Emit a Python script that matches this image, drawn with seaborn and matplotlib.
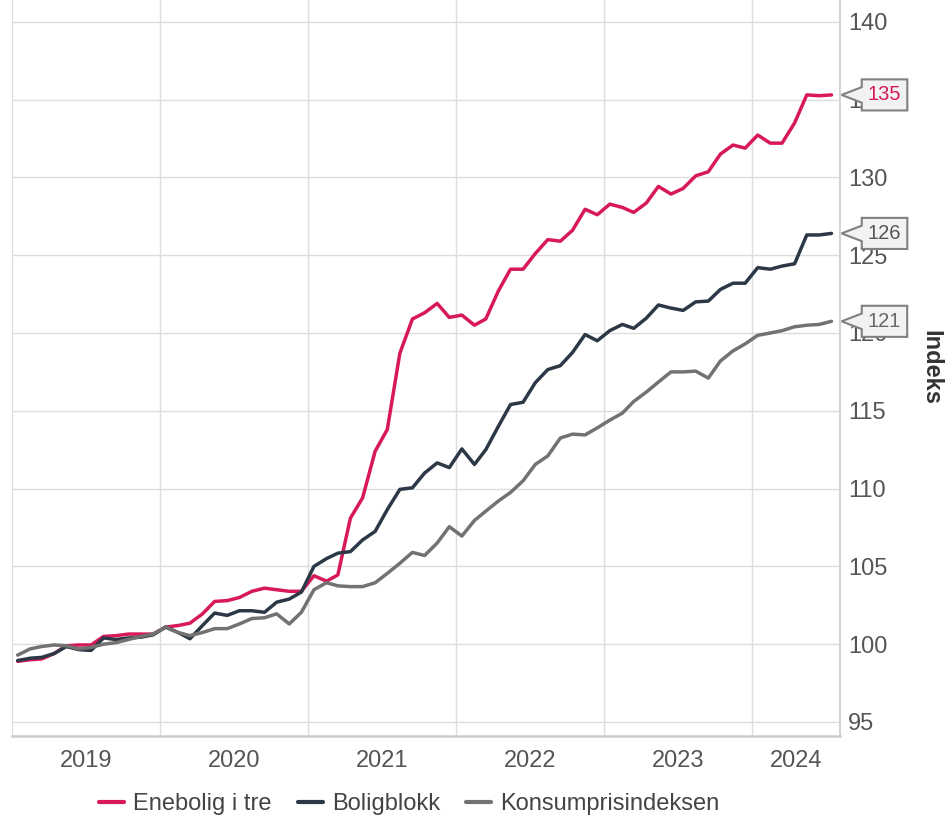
import numpy as np
import pandas as pd
import matplotlib
matplotlib.use("Agg")
import matplotlib.pyplot as plt
from matplotlib.path import Path
import seaborn as sns

# Månedlige indekser, jan 2019 - jul 2024 (plassert midt i måneden)
maaneder = pd.date_range("2019-01-01", periods=67, freq="MS") + pd.Timedelta(days=14)

enebolig = [
    98.9, 99.0, 99.05, 99.4, 99.9, 99.95, 99.95, 100.5, 100.55, 100.65, 100.65, 100.65,
    101.1, 101.2, 101.35, 101.95, 102.75, 102.8, 103.0, 103.4, 103.6, 103.5, 103.4, 103.4,
    104.4, 104.05, 104.45, 108.1, 109.4, 112.4, 113.8, 118.7, 120.9, 121.3, 121.9, 121.0,
    121.15, 120.5, 120.9, 122.7, 124.1, 124.1, 125.1, 126.0, 125.9, 126.6, 127.95, 127.6,
    128.28, 128.07, 127.75, 128.35, 129.42, 128.93, 129.29, 130.1, 130.36, 131.5, 132.08, 131.88,
    132.72, 132.2, 132.2, 133.5, 135.3, 135.25, 135.3,
]
boligblokk = [
    98.95, 99.1, 99.15, 99.4, 99.85, 99.65, 99.6, 100.4, 100.3, 100.4, 100.45, 100.6,
    101.1, 100.75, 100.35, 101.2, 102.0, 101.85, 102.15, 102.15, 102.05, 102.7, 102.9, 103.35,
    105.0, 105.5, 105.85, 105.95, 106.7, 107.25, 108.65, 109.95, 110.05, 111.0, 111.65, 111.35,
    112.55, 111.55, 112.5, 114.0, 115.4, 115.55, 116.8, 117.65, 117.9, 118.75, 119.9, 119.5,
    120.15, 120.55, 120.3, 120.95, 121.8, 121.6, 121.45, 122.0, 122.05, 122.8, 123.2, 123.2,
    124.2, 124.1, 124.3, 124.45, 126.3, 126.3, 126.4,
]
kpi = [
    99.3, 99.7, 99.85, 99.95, 99.9, 99.7, 99.8, 100.0, 100.1, 100.3, 100.5, 100.65,
    101.1, 100.75, 100.55, 100.75, 101.0, 101.0, 101.3, 101.65, 101.7, 101.95, 101.3, 102.05,
    103.5, 103.95, 103.75, 103.7, 103.7, 103.95, 104.55, 105.2, 105.9, 105.7, 106.5, 107.55,
    106.95, 107.95, 108.55, 109.2, 109.75, 110.5, 111.55, 112.1, 113.25, 113.5, 113.45, 113.9,
    114.4, 114.85, 115.6, 116.2, 116.85, 117.5, 117.5, 117.55, 117.1, 118.2, 118.85, 119.3,
    119.85, 120.0, 120.15, 120.4, 120.5, 120.55, 120.75,
]

serier = ["Enebolig i tre", "Boligblokk", "Konsumprisindeksen"]
farger = ["#d7195a", "#2d3846", "#727272"]
aar = [2019, 2020, 2021, 2022, 2023, 2024]
y_ticks = [95, 100, 105, 110, 115, 120, 125, 130, 135, 140]

df = pd.DataFrame({"dato": maaneder, serier[0]: enebolig, serier[1]: boligblokk, serier[2]: kpi})
lang = df.melt(id_vars="dato", var_name="serie", value_name="indeks")

sns.set_theme(style="white")
plt.rcParams["font.family"] = ["Liberation Sans", "DejaVu Sans"]

fig = plt.figure(figsize=(9.48, 8.18), dpi=100)
ax = fig.add_axes([12 / 948, 1 - 736 / 818, 828 / 948, 736 / 818])

sns.lineplot(data=lang, x="dato", y="indeks", hue="serie", hue_order=serier,
             palette=farger, linewidth=2.5, ax=ax, legend=True)

x_start, x_slutt = pd.Timestamp("2019-01-01"), pd.Timestamp("2024-08-05")
ax.set_xlim(x_start, x_slutt)
ax.set_ylim(94.1, 141.4)

# rutenett ved årsskifter, årstall midt i synlig del av året
aarsstart = [pd.Timestamp(f"{a}-01-01") for a in aar]
aarsslutt = [min(pd.Timestamp(f"{a + 1}-01-01"), x_slutt) for a in aar]
midt = [s + (e - s) / 2 for s, e in zip(aarsstart, aarsslutt)]
ax.set_xticks(aarsstart)
ax.set_xticks(midt, minor=True)
ax.set_xticklabels([])
ax.set_xticklabels([str(a) for a in aar], minor=True)
ax.tick_params(axis="x", which="both", length=0, pad=10, labelsize=17, labelcolor="#555555")
ax.grid(True, which="major", axis="both", color="#dddddd", linewidth=1)

ax.set_yticks(y_ticks)
ax.yaxis.tick_right()
ax.yaxis.set_label_position("right")
ax.tick_params(axis="y", length=0, pad=6, labelsize=17, labelcolor="#555555")
ax.set_xlabel("")
ax.set_ylabel("Indeks", rotation=-90, labelpad=39, fontsize=17, fontweight="bold", color="#333333")

for side in ["top", "left"]:
    ax.spines[side].set_visible(False)
ax.spines["right"].set_color("#d4d4d4")
ax.spines["right"].set_linewidth(1.5)
ax.spines["bottom"].set_color("#cccccc")
ax.spines["bottom"].set_linewidth(1.8)


def callout(x0, y0, width, height, mutation_size):
    pad = 0.3 * mutation_size
    x0, y0 = x0 - pad, y0 - pad
    width, height = width + 2 * pad, height + 2 * pad
    x1, y1 = x0 + width, y0 + height
    ym = y0 + height / 2
    tip = x0 - 1.0 * mutation_size
    verts = [(x0, y0), (x1, y0), (x1, y1), (x0, y1), (x0, ym + 0.25 * height),
             (tip, ym), (x0, ym - 0.25 * height), (x0, y0), (x0, y0)]
    codes = [Path.MOVETO] + [Path.LINETO] * 7 + [Path.CLOSEPOLY]
    return Path(verts, codes)


tekstfarger = ["#d7195a", "#555555", "#666666"]
for verdier, tf in zip([enebolig, boligblokk, kpi], tekstfarger):
    siste = verdier[-1]
    ax.annotate(f"{siste:.0f}", xy=(1, siste), xycoords=("axes fraction", "data"),
                xytext=(20, 0), textcoords="offset points", ha="left", va="center",
                fontsize=14.5, color=tf, annotation_clip=False, zorder=5,
                bbox=dict(boxstyle=callout, fc="#f2f2f2", ec="#808080", lw=1.5))

leg = ax.legend(loc="center", bbox_to_anchor=(0.48, -0.093), ncol=3, frameon=False,
                fontsize=17, handlelength=1.05, handletextpad=0.4, columnspacing=1.1)
for t in leg.get_texts():
    t.set_color("#444444")
for h in leg.get_lines():
    h.set_linewidth(3)

fig.savefig("out.png", dpi=100)
